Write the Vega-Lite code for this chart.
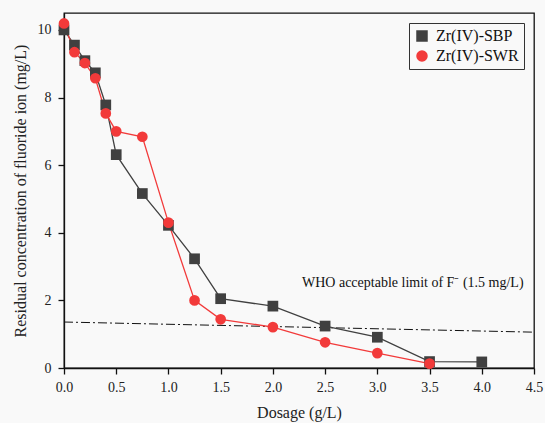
{
  "$schema": "https://vega.github.io/schema/vega-lite/v6.json",
  "width": 470,
  "height": 355,
  "autosize": "none",
  "padding": {"left": 64, "top": 13, "right": 11, "bottom": 55},
  "background": "#f9f9f9",
  "view": {"stroke": "#111", "strokeWidth": 1.3},
  "datasets": {
    "series": [
      {"dosage": 0, "conc": 10.0, "adsorbent": "Zr(IV)-SBP"},
      {"dosage": 0.1, "conc": 9.55, "adsorbent": "Zr(IV)-SBP"},
      {"dosage": 0.2, "conc": 9.09, "adsorbent": "Zr(IV)-SBP"},
      {"dosage": 0.3, "conc": 8.73, "adsorbent": "Zr(IV)-SBP"},
      {"dosage": 0.4, "conc": 7.78, "adsorbent": "Zr(IV)-SBP"},
      {"dosage": 0.5, "conc": 6.31, "adsorbent": "Zr(IV)-SBP"},
      {"dosage": 0.75, "conc": 5.16, "adsorbent": "Zr(IV)-SBP"},
      {"dosage": 1.0, "conc": 4.22, "adsorbent": "Zr(IV)-SBP"},
      {"dosage": 1.25, "conc": 3.23, "adsorbent": "Zr(IV)-SBP"},
      {"dosage": 1.5, "conc": 2.05, "adsorbent": "Zr(IV)-SBP"},
      {"dosage": 2.0, "conc": 1.83, "adsorbent": "Zr(IV)-SBP"},
      {"dosage": 2.5, "conc": 1.24, "adsorbent": "Zr(IV)-SBP"},
      {"dosage": 3.0, "conc": 0.91, "adsorbent": "Zr(IV)-SBP"},
      {"dosage": 3.5, "conc": 0.19, "adsorbent": "Zr(IV)-SBP"},
      {"dosage": 4.0, "conc": 0.18, "adsorbent": "Zr(IV)-SBP"},
      {"dosage": 0, "conc": 10.19, "adsorbent": "Zr(IV)-SWR"},
      {"dosage": 0.1, "conc": 9.34, "adsorbent": "Zr(IV)-SWR"},
      {"dosage": 0.2, "conc": 9.02, "adsorbent": "Zr(IV)-SWR"},
      {"dosage": 0.3, "conc": 8.57, "adsorbent": "Zr(IV)-SWR"},
      {"dosage": 0.4, "conc": 7.53, "adsorbent": "Zr(IV)-SWR"},
      {"dosage": 0.5, "conc": 7.0, "adsorbent": "Zr(IV)-SWR"},
      {"dosage": 0.75, "conc": 6.84, "adsorbent": "Zr(IV)-SWR"},
      {"dosage": 1.0, "conc": 4.30, "adsorbent": "Zr(IV)-SWR"},
      {"dosage": 1.25, "conc": 2.0, "adsorbent": "Zr(IV)-SWR"},
      {"dosage": 1.5, "conc": 1.44, "adsorbent": "Zr(IV)-SWR"},
      {"dosage": 2.0, "conc": 1.21, "adsorbent": "Zr(IV)-SWR"},
      {"dosage": 2.5, "conc": 0.76, "adsorbent": "Zr(IV)-SWR"},
      {"dosage": 3.0, "conc": 0.44, "adsorbent": "Zr(IV)-SWR"},
      {"dosage": 3.5, "conc": 0.13, "adsorbent": "Zr(IV)-SWR"}
    ]
  },
  "data": {"name": "series"},
  "encoding": {
    "x": {"field": "dosage", "type": "quantitative", "title": "Dosage (g/L)", "scale": {"domain": [0, 4.5], "nice": false, "zero": false},
      "axis": {"domainColor": "#111", "domainWidth": 1.3, "tickColor": "#111", "tickWidth": 1.3, "tickSize": 6, "gridOpacity": 0,
        "labelFont": "Liberation Serif", "labelFontSize": 14, "labelColor": "#222", "labelFlush": false, "format": ".1f",
        "titleFont": "Liberation Serif", "titleFontSize": 16, "titleFontWeight": "normal", "titleColor": "#222", "titlePadding": 10, "labelPadding": 6}},
    "y": {"field": "conc", "type": "quantitative", "title": "Residual concentration of fluoride ion (mg/L)", "scale": {"domain": [0, 10.5], "nice": false},
      "axis": {"domainColor": "#111", "domainWidth": 1.3, "tickColor": "#111", "tickWidth": 1.3, "tickSize": 6, "gridOpacity": 0, "values": [0, 2, 4, 6, 8, 10],
        "labelFont": "Liberation Serif", "labelFontSize": 14, "labelColor": "#222",
        "titleFont": "Liberation Serif", "titleFontSize": 16, "titleFontWeight": "normal", "titleColor": "#222", "titlePadding": 9, "labelPadding": 7}}
  },
  "layer": [
    {
      "data": {"values": [{"dosage": 0, "conc": 1.36}, {"dosage": 4.5, "conc": 1.06}]},
      "mark": {"type": "line", "color": "#111", "strokeWidth": 1, "strokeDash": [9, 3, 2, 3]},
      "encoding": {}
    },
    {
      "mark": {"type": "line", "strokeWidth": 1.3},
      "encoding": {
        "color": {"field": "adsorbent", "type": "nominal", "scale": {"domain": ["Zr(IV)-SBP", "Zr(IV)-SWR"], "range": ["#404040", "#f23a3a"]},
          "legend": {"title": null, "orient": "top-right", "offset": 10, "labelFontSize": 16, "labelFont": "Liberation Serif", "labelColor": "#111", "strokeColor": "#333", "padding": 5, "rowPadding": 4, "labelOffset": 6}
        }
      }
    },
    {
      "mark": {"type": "point", "filled": true, "opacity": 1, "size": 115},
      "encoding": {
        "color": {"field": "adsorbent", "type": "nominal"},
        "shape": {"field": "adsorbent", "type": "nominal", "scale": {"domain": ["Zr(IV)-SBP", "Zr(IV)-SWR"], "range": ["square", "circle"]}}
      }
    },
    {
      "data": {"values": [{"dosage": 4.4, "conc": 2.5, "label": "WHO acceptable limit of F⁻ (1.5 mg/L)"}]},
      "mark": {"type": "text", "align": "right", "baseline": "middle", "fontSize": 14, "font": "Liberation Serif", "color": "#111"},
      "encoding": {"text": {"field": "label"}}
    }
  ]
}
